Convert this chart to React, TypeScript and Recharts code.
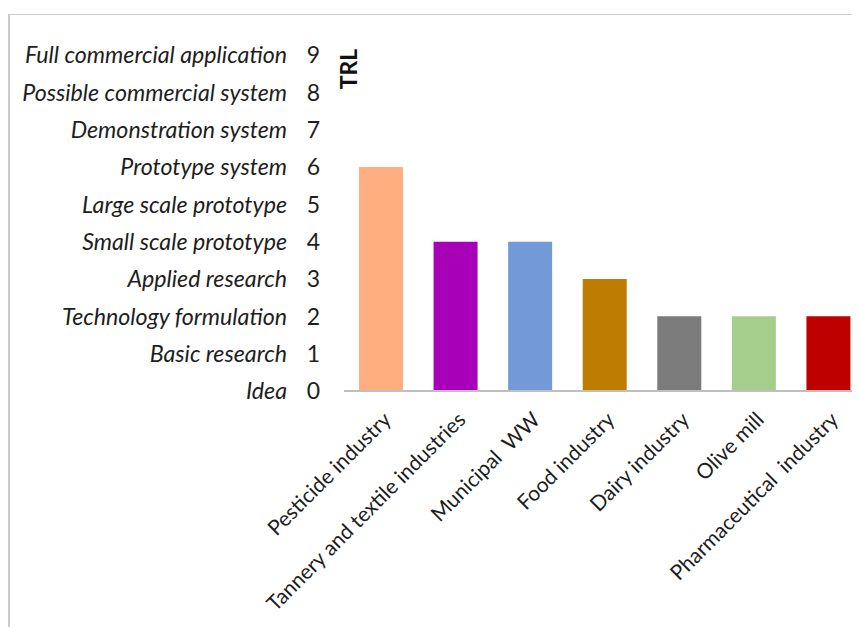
import React from 'react';
import { BarChart, Bar, XAxis, YAxis, Cell } from 'recharts';

const categories = [
  'Pesticide industry',
  'Tannery and textile industries',
  'Municipal  WW',
  'Food industry',
  'Dairy industry',
  'Olive mill',
  'Pharmaceutical  industry',
];
const trlValues = [6, 4, 4, 3, 2, 2, 2];
const barColors = ['#FFAF7F', '#A800B8', '#7399D6', '#BD7E00', '#7B7B7B', '#A5CD8C', '#BF0000'];
const yTicks = [0, 1, 2, 3, 4, 5, 6, 7, 8, 9];
const yTickLabels = [
  'Idea',
  'Basic research',
  'Technology formulation',
  'Applied research',
  'Small scale prototype',
  'Large scale prototype',
  'Prototype system',
  'Demonstration system',
  'Possible commercial system',
  'Full commercial application',
];

const data = categories.map((name, i) => ({ name, value: trlValues[i] }));

const FONT = 'Lato, "Open Sans", sans-serif';
const TEXT = '#1e1e1e';

const YTick = (props: any) => {
  const { y, payload } = props;
  const v = payload.value as number;
  return (
    <g>
      <text x={279} y={y} dy="0.36em" textAnchor="end" fontFamily={FONT} fontStyle="italic" fontSize={23.2} fill={TEXT}>
        {yTickLabels[v]}
      </text>
      <text x={312} y={y} dy="0.36em" textAnchor="end" fontFamily={FONT} fontSize={23} fill={TEXT}>
        {v}
      </text>
    </g>
  );
};

const XTick = (props: any) => {
  const { x, y, payload } = props;
  return (
    <text
      transform={`translate(${x + 11},${y + 22}) rotate(-45)`}
      textAnchor="end"
      fontFamily={FONT}
      fontSize={21}
      fill={TEXT}
      style={{ whiteSpace: 'pre' }}
    >
      {payload.value}
    </text>
  );
};

const TrlLabel = (props: any) => {
  const vb = props.viewBox || {};
  const cx = (vb.x || 0) + (vb.width || 0) + 4;
  const cy = (vb.y || 0) + 14;
  return (
    <text
      transform={`translate(${cx},${cy}) rotate(-90)`}
      textAnchor="middle"
      dominantBaseline="central"
      fontFamily={FONT}
      fontWeight="bold"
      fontSize={23}
      fill="#111"
    >
      TRL
    </text>
  );
};

export default function App() {
  return (
    <div style={{ position: 'relative', width: 852, height: 619, overflow: 'hidden', background: '#fff' }}>
      <div
        style={{
          position: 'absolute',
          left: 0,
          top: 6,
          right: 0,
          bottom: 0,
          borderTop: '1.5px solid #cccccc',
          borderLeft: '2px solid #cccccc',
        }}
      />
      <div style={{ position: 'absolute', left: 0, top: 0 }}>
        <BarChart width={858} height={619} data={data} margin={{ top: 47, right: 0, bottom: 0, left: 0 }}>
          <XAxis
            dataKey="name"
            interval={0}
            height={236}
            tickLine={false}
            axisLine={{ stroke: '#bfbfbf', strokeWidth: 2 }}
            tick={<XTick />}
          />
          <YAxis
            width={336}
            domain={[0, 9]}
            ticks={yTicks}
            interval={0}
            axisLine={false}
            tickLine={false}
            tick={<YTick />}
            label={<TrlLabel />}
          />
          <Bar dataKey="value" barSize={44} isAnimationActive={false}>
            {data.map((d, i) => (
              <Cell key={d.name} fill={barColors[i]} />
            ))}
          </Bar>
        </BarChart>
      </div>
    </div>
  );
}
